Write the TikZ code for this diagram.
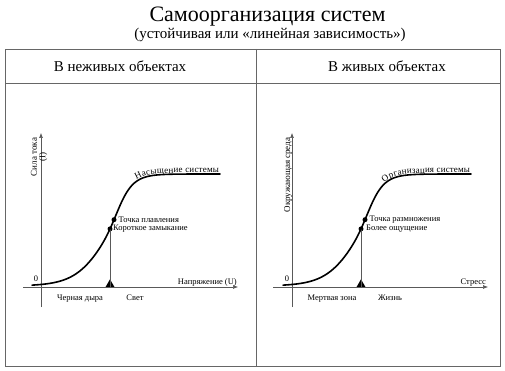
\documentclass[tikz,border=0pt]{standalone}
\usepackage{fontspec}
\setmainfont{Liberation Serif}
\usetikzlibrary{arrows.meta,decorations.text,shapes.geometric}
\begin{document}
\begin{tikzpicture}[x=1pt,y=-1pt,
  declare function={sig(\x)=286-112/(1+exp(-(\x-109.5)/(13-3*tanh((\x-109.5)/15))));},
  frame/.style={draw=black!60, line width=0.8pt},
  axisline/.style={draw=black!65, line width=0.6pt},
  axisarrow/.style={axisline, -{Latex[length=5pt,width=4pt]}},
  curveline/.style={line width=1.6pt, line cap=round},
  dot/.style={circle, fill=black, inner sep=0pt, minimum size=5pt},
  lbl/.style={font=\fontsize{8.5}{9}\selectfont, inner sep=0pt},
  ylbl/.style={font=\fontsize{9}{8.5}\selectfont, inner sep=0pt, rotate=90, align=center},
  tri/.style={regular polygon, regular polygon sides=3, fill=black, inner sep=0pt, minimum size=10pt},
  title/.style={font=\fontsize{22}{26}\selectfont, inner sep=0pt, anchor=base},
  sub/.style={font=\fontsize{15}{18}\selectfont, inner sep=0pt, anchor=base},
  curvetext/.style={decorate, decoration={text along path, raise=1.2pt, text align=fit to path, text={|\fontsize{9}{10}\selectfont|#1}}}
]
\useasboundingbox (0,0) rectangle (505,371);
% table
\draw[frame] (5,49) rectangle (500,366);
\draw[frame] (5,83) -- (500,83);
\draw[frame] (256,49) -- (256,366);
% titles
\node[title] (t) at (267.5,22) {Самоорганизация систем};
\node[sub] (s) at (270,39) {(устойчивая или «линейная зависимость»)};
\node[sub] (h1) at (120,72) {В неживых объектах};
\node[sub] (h2) at (387,72) {В живых объектах};

% ---------- left panel
\begin{scope}
  \coordinate (La) at (41,307);
  \coordinate (Lb) at (41,133);
  \coordinate (Lc) at (23,287);
  \coordinate (Ld) at (238,287);
  \draw[axisarrow] (La) -- (Lb);
  \draw[axisarrow] (Lc) -- (Ld);
  \node[tri, anchor=south] (Ltri) at (110,287) {};
  \node[dot] (L1) at (114,219.7) {};
  \node[dot] (L2) at (110,228.9) {};
  \draw[axisline] (Ltri.south) -- (L2.center);
  \draw[curveline] plot[domain=32:220, samples=150] (\x,{sig(\x)});
  \path[curvetext={Насыщение системы}] plot[domain=137:219, samples=60] (\x,{sig(\x)});
  \node[lbl, anchor=west] (L1t) at (118.5,219.7) {Точка плавления};
  \node[lbl, anchor=west] (L2t) at (113,228.9) {Короткое замыкание};
  \node[ylbl] (Ly) at (39,157) {Сила тока\\(I)};
  \node[lbl, anchor=base] (L0) at (36,281) {0};
  \node[lbl, anchor=base east] (Lx) at (237,284) {Напряжение (U)};
  \node[lbl, anchor=base] (Lz1) at (80,300) {Черная дыра};
  \node[lbl, anchor=base] (Lz2) at (135,300) {Свет};
\end{scope}

% ---------- right panel
\begin{scope}[xshift=251pt]
  \coordinate (Ra) at (41,307);
  \coordinate (Rb) at (41,133);
  \coordinate (Rc) at (22,287);
  \coordinate (Rd) at (237,287);
  \draw[axisarrow] (Ra) -- (Rb);
  \draw[axisarrow] (Rc) -- (Rd);
  \node[tri, anchor=south] (Rtri) at (110,287) {};
  \node[dot] (R1) at (114,219.7) {};
  \node[dot] (R2) at (110,228.9) {};
  \draw[axisline] (Rtri.south) -- (R2.center);
  \draw[curveline] plot[domain=32:220, samples=150] (\x,{sig(\x)});
  \path[curvetext={Организация системы}] plot[domain=134:219, samples=60] (\x,{sig(\x)});
  \node[lbl, anchor=west] (R1t) at (118.5,219.7) {Точка размножения};
  \node[lbl, anchor=west] (R2t) at (115,228.9) {Более ощущение};
  \node[ylbl] (Ry) at (37,175) {Окружающая среда};
  \node[lbl, anchor=base] (R0) at (36,281) {0};
  \node[lbl, anchor=base east] (Rx) at (235,284) {Стресс};
  \node[lbl, anchor=base] (Rz1) at (81,300) {Мертвая зона};
  \node[lbl, anchor=base] (Rz2) at (139,300) {Жизнь};
\end{scope}
\end{tikzpicture}
\end{document}
